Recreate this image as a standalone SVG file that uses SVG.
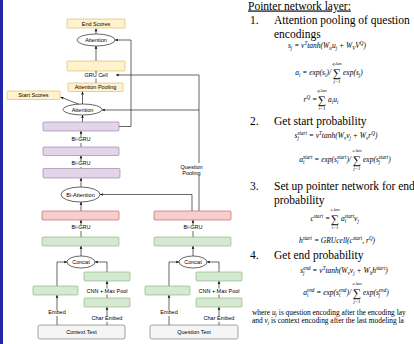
<svg xmlns="http://www.w3.org/2000/svg" width="414" height="344" viewBox="0 0 414 344">
<defs>
<marker id="ah" viewBox="0 0 6 6" refX="6" refY="3" markerWidth="3.2" markerHeight="3.2" orient="auto" markerUnits="userSpaceOnUse"><path d="M0,0.4 L6,3 L0,5.6 L1.5,3 Z" fill="#000"/></marker>
</defs>
<style>
.y{fill:#fff2cc;stroke:#d6b656;stroke-width:.6}
.p{fill:#e1d5e7;stroke:#9673a6;stroke-width:.6}
.r{fill:#f8cecc;stroke:#b85450;stroke-width:.6}
.g{fill:#d5e8d4;stroke:#82b366;stroke-width:.6}
.t{fill:#f5f5f5;stroke:#666;stroke-width:.6}
.e{fill:#fff;stroke:#000;stroke-width:.6}
.l{font-family:"Liberation Sans",Arial,sans-serif;font-size:5.5px;fill:#000;text-anchor:middle}
.c path{fill:none;stroke:#000;stroke-width:.6;marker-end:url(#ah)}
.bg{fill:#fff}
.h{font-family:"Liberation Serif","Times New Roman",serif;font-size:11.5px;fill:#000}
.m{font-family:"Liberation Serif","Times New Roman",serif;font-style:italic;font-size:7.5px;fill:#000}
.s{font-size:5.1px}
.sum{font-family:"Liberation Serif","DejaVu Serif",serif;font-size:11.5px;fill:#000;text-anchor:middle}
.lim{font-size:4.8px;text-anchor:middle}
.n{font-family:"Liberation Serif","Times New Roman",serif;font-size:7.4px;fill:#000}
</style>
<rect x="0" y="0" width="414" height="344" fill="#fff"/>
<rect x="0" y="0" width="3" height="344" fill="#2424a8"/>

<g id="connectors" class="c">
<path d="M96 34V28.5"/>
<path d="M96 61V46"/>
<path d="M96 83V71"/>
<path d="M82.5 104V91.5"/>
<path d="M79 104.3L60.5 97"/>
<path d="M82.5 122V115"/>
<path d="M81 147V131"/>
<path d="M81 168.5V155.5"/>
<path d="M81 187V178"/>
<path d="M81 211V202"/>
<path d="M81 237V220"/>
<path d="M81 256V246"/>
<path d="M57 286V262H67"/>
<path d="M107 272V262H95"/>
<path d="M107 298V281"/>
<path d="M57 325V295"/>
<path d="M107 325V307"/>
<path d="M193 256V246"/>
<path d="M193 237V220"/>
<path d="M169 286V262H179"/>
<path d="M219 272V262H207"/>
<path d="M219 298V281"/>
<path d="M169 325V295"/>
<path d="M219 325V307"/>
<path d="M119 126.5H131V40H115"/>
<path d="M192 211V194.5H100"/>
<path d="M199 211V75H116"/>
<path d="M199 110H102"/>
</g>

<g id="edge-labels">
<rect class="bg" x="84.5" y="72.5" width="23" height="6"/><text class="l" x="96" y="77">GRU Cell</text>
<rect class="bg" x="71.5" y="137" width="19" height="6"/><text class="l" x="81" y="141">Bi-GRU</text>
<rect class="bg" x="71.5" y="161" width="19" height="6"/><text class="l" x="81" y="165">Bi-GRU</text>
<rect class="bg" x="71.5" y="225" width="19" height="6"/><text class="l" x="81" y="229">Bi-GRU</text>
<rect class="bg" x="86.5" y="288.5" width="41" height="6"/><text class="l" x="107" y="293">CNN + Max Pool</text>
<rect class="bg" x="48" y="310" width="18" height="6"/><text class="l" x="57" y="314">Embed</text>
<rect class="bg" x="91.5" y="316" width="31" height="6"/><text class="l" x="107" y="320">Char Embed</text>
<rect class="bg" x="183.5" y="225" width="19" height="6"/><text class="l" x="193" y="229">Bi-GRU</text>
<rect class="bg" x="198.5" y="288.5" width="41" height="6"/><text class="l" x="219" y="293">CNN + Max Pool</text>
<rect class="bg" x="160" y="310" width="18" height="6"/><text class="l" x="169" y="314">Embed</text>
<rect class="bg" x="203.5" y="316" width="31" height="6"/><text class="l" x="219" y="320">Char Embed</text>
<rect class="bg" x="180.5" y="163" width="22" height="13"/><text class="l" x="191.5" y="169">Question</text><text class="l" x="191.5" y="175">Pooling</text>
</g>

<g id="end-scores"><rect class="y" x="67" y="19" width="58" height="9" rx="1"/><text class="l" x="96" y="25.5">End Scores</text></g>
<g id="attention-top"><ellipse class="e" cx="96" cy="40" rx="19" ry="6"/><text class="l" x="96" y="42">Attention</text></g>
<g id="gru-cell-box"><rect class="y" x="67" y="61" width="58" height="10" rx="1"/></g>
<g id="attention-pooling"><rect class="y" x="68" y="83" width="55" height="8.5" rx="1"/><text class="l" x="95.5" y="89">Attention Pooling</text></g>
<g id="start-scores"><rect class="y" x="7" y="91" width="53" height="8.5" rx="1"/><text class="l" x="33.5" y="97">Start Scores</text></g>
<g id="attention-mid"><ellipse class="e" cx="82.5" cy="109.5" rx="19.5" ry="5.5"/><text class="l" x="82.5" y="111.5">Attention</text></g>
<g id="bigru-1"><rect class="p" x="43" y="122" width="76" height="9" rx="1"/></g>
<g id="bigru-2"><rect class="p" x="43" y="147" width="76" height="8.5" rx="1"/></g>
<g id="bigru-3"><rect class="p" x="43" y="168.5" width="77" height="9.5" rx="1"/></g>
<g id="bi-attention"><ellipse class="e" cx="80.5" cy="194.5" rx="19.5" ry="7.5"/><text class="l" x="80.5" y="196.5">Bi-Attention</text></g>
<g id="context-red"><rect class="r" x="42" y="211" width="77" height="9" rx="1"/></g>
<g id="context-green"><rect class="g" x="42" y="237" width="77" height="9" rx="1"/></g>
<g id="context-concat"><ellipse class="e" cx="81" cy="262" rx="14" ry="6"/><text class="l" x="81" y="264">Concat</text></g>
<g id="context-cnn-out"><rect class="g" x="84" y="272" width="46" height="9" rx="1"/></g>
<g id="context-embed"><rect class="g" x="33" y="286" width="45" height="9" rx="1"/></g>
<g id="context-char"><rect class="g" x="84" y="298" width="46" height="9" rx="1"/></g>
<g id="context-text"><rect class="t" x="38" y="325" width="87" height="14" rx="2"/><text class="l" x="81.5" y="334">Context Text</text></g>

<g id="question-red"><rect class="r" x="154" y="211" width="77" height="9" rx="1"/></g>
<g id="question-green"><rect class="g" x="154" y="237" width="77" height="9" rx="1"/></g>
<g id="question-concat"><ellipse class="e" cx="193" cy="262" rx="14" ry="6"/><text class="l" x="193" y="264">Concat</text></g>
<g id="question-cnn-out"><rect class="g" x="196" y="272" width="46" height="9" rx="1"/></g>
<g id="question-embed"><rect class="g" x="145" y="286" width="45" height="9" rx="1"/></g>
<g id="question-char"><rect class="g" x="196" y="298" width="46" height="9" rx="1"/></g>
<g id="question-text"><rect class="t" x="150" y="325" width="88" height="14" rx="2"/><text class="l" x="194" y="334">Question Text</text></g>

<g id="notes">
<text class="h" x="248" y="9.5" text-decoration="underline">Pointer network layer:</text>
<text class="h" x="250" y="23.5">1.</text><text class="h" x="274" y="23.5">Attention pooling of question</text>
<text class="h" x="274" y="38">encodings</text>
<text class="m" x="327" y="48" text-anchor="middle">s<tspan class="s" dy="1.5">j</tspan><tspan dy="-1.5"> = v</tspan><tspan class="s" dy="-2.9">T</tspan><tspan dy="2.9">tanh(W</tspan><tspan class="s" dy="1.5">u</tspan><tspan dy="-1.5">u</tspan><tspan class="s" dy="1.5">j</tspan><tspan dy="-1.5"> + W</tspan><tspan class="s" dy="1.5">V</tspan><tspan dy="-1.5">V</tspan><tspan class="s" dy="-2.9">Q</tspan><tspan dy="2.9">)</tspan></text>
<text class="m" x="331" y="75" text-anchor="end">a<tspan class="s" dy="1.5">i</tspan><tspan dy="-1.5"> = exp(s</tspan><tspan class="s" dy="1.5">i</tspan><tspan dy="-1.5">)/</tspan></text>
<text class="sum" x="337" y="77">∑</text><text class="m lim" x="337" y="65">q.len</text><text class="m lim" x="337" y="82.5">j=1</text>
<text class="m" x="343" y="75">exp(s<tspan class="s" dy="1.5">j</tspan><tspan dy="-1.5">)</tspan></text>
<text class="m" x="317" y="102" text-anchor="end">r<tspan class="s" dy="-2.9">Q</tspan><tspan dy="2.9"> =</tspan></text>
<text class="sum" x="322" y="104">∑</text><text class="m lim" x="322" y="92">q.len</text><text class="m lim" x="322" y="109.5">i=1</text>
<text class="m" x="328" y="102">a<tspan class="s" dy="1.5">i</tspan><tspan dy="-1.5">u</tspan><tspan class="s" dy="1.5">i</tspan></text>

<text class="h" x="250" y="125">2.</text><text class="h" x="274" y="125">Get start probability</text>
<text class="m" x="336" y="138" text-anchor="middle">s<tspan class="s" dy="1.5">j</tspan><tspan class="s" dx="-1.4" dy="-4.4">start</tspan><tspan dy="2.9"> = v</tspan><tspan class="s" dy="-2.9">T</tspan><tspan dy="2.9">tanh(W</tspan><tspan class="s" dy="1.5">v</tspan><tspan dy="-1.5">v</tspan><tspan class="s" dy="1.5">j</tspan><tspan dy="-1.5"> + W</tspan><tspan class="s" dy="1.5">v</tspan><tspan dy="-1.5">r</tspan><tspan class="s" dy="-2.9">Q</tspan><tspan dy="2.9">)</tspan></text>
<text class="m" x="351" y="162" text-anchor="end">a<tspan class="s" dy="1.5">i</tspan><tspan class="s" dx="-1.4" dy="-4.4">start</tspan><tspan dy="2.9"> = exp(s</tspan><tspan class="s" dy="1.5">i</tspan><tspan class="s" dx="-1.4" dy="-4.4">start</tspan><tspan dy="2.9">)/</tspan></text>
<text class="sum" x="357" y="164">∑</text><text class="m lim" x="357" y="152">c.len</text><text class="m lim" x="357" y="169.5">j=1</text>
<text class="m" x="363" y="162">exp(s<tspan class="s" dy="1.5">j</tspan><tspan class="s" dx="-1.4" dy="-4.4">start</tspan><tspan dy="2.9">)</tspan></text>

<text class="h" x="250" y="190">3.</text><text class="h" x="274" y="190">Set up pointer network for end</text>
<text class="h" x="274" y="204">probability</text>
<text class="m" x="330" y="221" text-anchor="end">c<tspan class="s" dy="-2.9">start</tspan><tspan dy="2.9"> =</tspan></text>
<text class="sum" x="335" y="223">∑</text><text class="m lim" x="335" y="211">c.len</text><text class="m lim" x="335" y="228.5">i=1</text>
<text class="m" x="341" y="221">a<tspan class="s" dy="1.5">i</tspan><tspan class="s" dx="-1.4" dy="-4.4">start</tspan><tspan dy="2.9">v</tspan><tspan class="s" dy="1.5">j</tspan></text>
<text class="m" x="337" y="243" text-anchor="middle">h<tspan class="s" dy="-2.9">start</tspan><tspan dy="2.9"> = GRUcell(c</tspan><tspan class="s" dy="-2.9">start</tspan><tspan dy="2.9">, r</tspan><tspan class="s" dy="-2.9">Q</tspan><tspan dy="2.9">)</tspan></text>

<text class="h" x="250" y="259">4.</text><text class="h" x="274" y="259">Get end probability</text>
<text class="m" x="344" y="273" text-anchor="middle">s<tspan class="s" dy="1.5">j</tspan><tspan class="s" dx="-1.4" dy="-4.4">end</tspan><tspan dy="2.9"> = v</tspan><tspan class="s" dy="-2.9">T</tspan><tspan dy="2.9">tanh(W</tspan><tspan class="s" dy="1.5">v</tspan><tspan dy="-1.5">v</tspan><tspan class="s" dy="1.5">j</tspan><tspan dy="-1.5"> + W</tspan><tspan class="s" dy="1.5">h</tspan><tspan dy="-1.5">h</tspan><tspan class="s" dy="-2.9">start</tspan><tspan dy="2.9">)</tspan></text>
<text class="m" x="351" y="295" text-anchor="end">a<tspan class="s" dy="1.5">i</tspan><tspan class="s" dx="-1.4" dy="-4.4">end</tspan><tspan dy="2.9"> = exp(s</tspan><tspan class="s" dy="1.5">i</tspan><tspan class="s" dx="-1.4" dy="-4.4">end</tspan><tspan dy="2.9">)/</tspan></text>
<text class="sum" x="357" y="297">∑</text><text class="m lim" x="357" y="285">c.len</text><text class="m lim" x="357" y="302.5">j=1</text>
<text class="m" x="363" y="295">exp(s<tspan class="s" dy="1.5">j</tspan><tspan class="s" dx="-1.4" dy="-4.4">end</tspan><tspan dy="2.9">)</tspan></text>

<text class="n" x="252" y="315">where <tspan font-style="italic">u</tspan><tspan font-size="5" font-style="italic" dy="1.3">j</tspan><tspan dy="-1.3"> is question encoding after the encoding lay</tspan></text>
<text class="n" x="252" y="323">and <tspan font-style="italic">v</tspan><tspan font-size="5" font-style="italic" dy="1.3">j</tspan><tspan dy="-1.3"> is context encoding after the last modeling la</tspan></text>
</g>
</svg>
